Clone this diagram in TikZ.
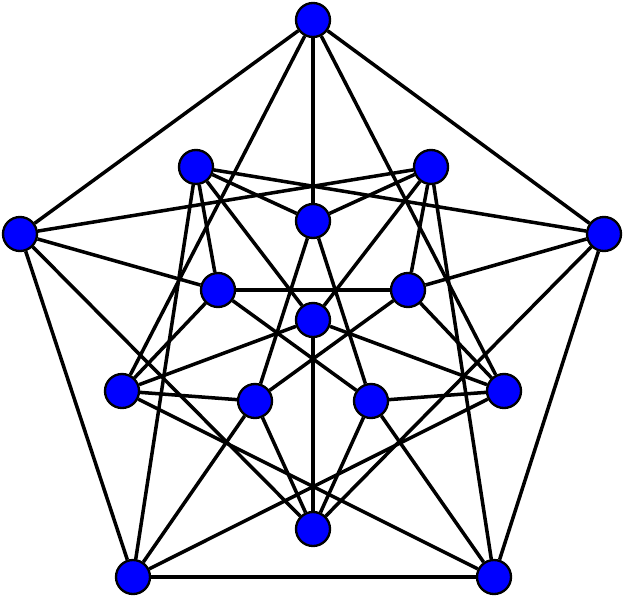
\documentclass[tikz,border=0pt]{standalone}
\usepackage{tikz}

\begin{document}
\begin{tikzpicture}[x=0.03cm,y=-0.03cm,
  vert/.style={circle,draw=black,fill=blue,line width=2pt,minimum size=1.02cm,inner sep=0pt}]
\useasboundingbox (0,0) rectangle (627,599);

\node[vert] (o1) at (313,20) {};
\node[vert] (o2) at (604,234) {};
\node[vert] (o3) at (494,577) {};
\node[vert] (o4) at (133,577) {};
\node[vert] (o5) at (20,234) {};

\node[vert] (m1) at (431,167) {};
\node[vert] (m2) at (504,391) {};
\node[vert] (m3) at (313,529) {};
\node[vert] (m4) at (122,391) {};
\node[vert] (m5) at (196,167) {};

\node[vert] (i1) at (313,221) {};
\node[vert] (i2) at (408,290) {};
\node[vert] (i3) at (371,401) {};
\node[vert] (i4) at (255,401) {};
\node[vert] (i5) at (218,290) {};

\node[vert] (c) at (313,320) {};

\path[draw,line width=3pt]
  (o1) edge (o5) (o1) edge (o2) (o1) edge (i1) (o1) edge (m4) (o1) edge (m2)
  (o5) edge (m1) (o5) edge (i5) (o5) edge (m3) (o5) edge (o4)
  (o2) edge (m5) (o2) edge (i2) (o2) edge (m3) (o2) edge (o3)
  (o4) edge (o3) (o4) edge (m5) (o4) edge (i4) (o4) edge (m2)
  (o3) edge (m1) (o3) edge (i3) (o3) edge (m4)
  (m5) edge (i1) (m5) edge (i5) (m5) edge (c)
  (m1) edge (i1) (m1) edge (i2) (m1) edge (c)
  (i1) edge (i4) (i1) edge (i3)
  (i5) edge (i2) (i5) edge (m4) (i5) edge (i3)
  (i2) edge (m2) (i2) edge (i4)
  (i4) edge (m4) (i4) edge (m3)
  (i3) edge (m2) (i3) edge (m3)
  (c) edge (m4) (c) edge (m2) (c) edge (m3);

\end{tikzpicture}
\end{document}
